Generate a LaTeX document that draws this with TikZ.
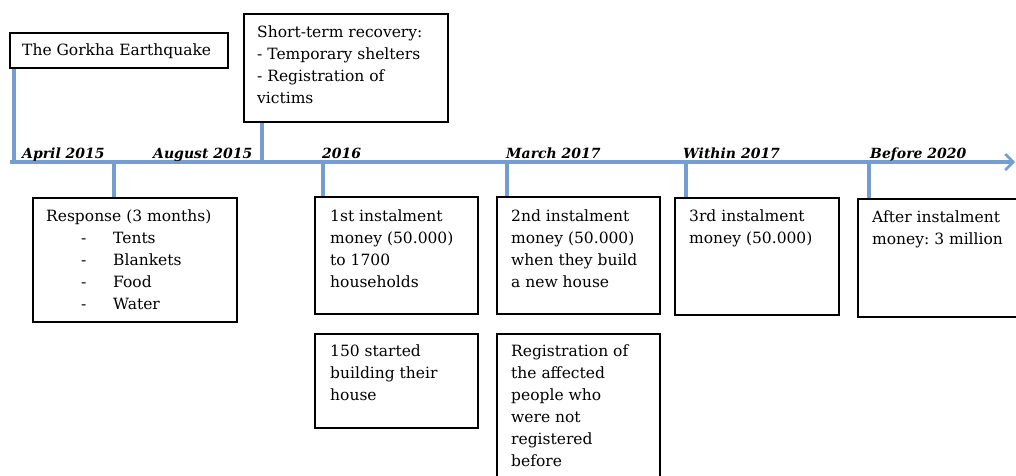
\documentclass[tikz,border=0pt]{standalone}
\usepackage{fontspec}
\setmainfont{DejaVu Serif}
\usetikzlibrary{arrows.meta}
\definecolor{lineblue}{RGB}{116,158,208}
\frenchspacing
\tikzset{
  frame/.style={draw=black, line width=1.6pt, inner sep=0pt, anchor=north west},
  btext/.style={anchor=north west, inner sep=0pt, align=left,
    font=\fontsize{15.5}{22}\selectfont},
  datelabel/.style={anchor=base west, inner sep=0pt,
    font=\fontsize{14}{16}\selectfont\bfseries\itshape},
  tick/.style={draw=lineblue, line width=3.8pt},
  axis/.style={draw=lineblue, line width=3.8pt, -{Straight Barb[length=8pt,width=16pt,line width=2.5pt]}}
}
\newcommand{\dashitem}[1]{\hspace*{35pt}\makebox[32pt][l]{-}#1}
\begin{document}
\begin{tikzpicture}[x=1pt,y=-1pt]
\useasboundingbox (0,0) rectangle (1016,475);
\clip (0,0) rectangle (1016,475);

% boxes
\node[frame, minimum width=218pt, minimum height=35pt]  (gorkha) at (9,32) {};
\node[frame, minimum width=204pt, minimum height=108pt] (short)  at (243,13) {};
\node[frame, minimum width=204pt, minimum height=124pt] (resp)   at (32,197) {};
\node[frame, minimum width=163pt, minimum height=117pt] (inst1)  at (314,196) {};
\node[frame, minimum width=163pt, minimum height=117pt] (inst2)  at (496,196) {};
\node[frame, minimum width=164pt, minimum height=117pt] (inst3)  at (674,197) {};
\node[frame, minimum width=170pt, minimum height=118pt] (after)  at (857,198) {};
\node[frame, minimum width=163pt, minimum height=94pt]  (start)  at (314,333) {};
\node[frame, minimum width=163pt, minimum height=150pt] (regis)  at (496,333) {};

% box texts
\node[btext] (tgorkha) at ([xshift=13pt,yshift=-12pt]gorkha.north west) {The Gorkha Earthquake};
\node[btext] (tshort) at ([xshift=14pt,yshift=-13pt]short.north west)
  {Short-term recovery:\\- Temporary shelters\\- Registration of\\victims};
\node[btext] (tresp) at ([xshift=14pt,yshift=-13pt]resp.north west)
  {Response (3 months)\\\dashitem{Tents}\\\dashitem{Blankets}\\\dashitem{Food}\\\dashitem{Water}};
\node[btext] (tinst1) at ([xshift=16pt,yshift=-14pt]inst1.north west)
  {1st instalment\\money (50.000)\\to 1700\\households};
\node[btext] (tinst2) at ([xshift=15pt,yshift=-14pt]inst2.north west)
  {2nd instalment\\money (50.000)\\when they build\\a new house};
\node[btext] (tinst3) at ([xshift=15pt,yshift=-13pt]inst3.north west)
  {3rd instalment\\money (50.000)};
\node[btext] (tafter) at ([xshift=15pt,yshift=-13pt]after.north west)
  {After instalment\\money: 3 million};
\node[btext] (tstart) at ([xshift=16pt,yshift=-12pt]start.north west)
  {150 started\\building their\\house};
\node[btext] (tregis) at ([xshift=15pt,yshift=-12pt]regis.north west)
  {Registration of\\the affected\\people who\\were not\\registered\\before};

% timeline
\coordinate (axstart) at (10,162);
\coordinate (axend) at (1015,162);
\coordinate (m1) at (14,162);
\coordinate (m2) at (114,162);
\coordinate (m3) at (262,162);
\coordinate (m4) at (323,162);
\coordinate (m5) at (507,162);
\coordinate (m6) at (686,162);
\coordinate (m7) at (869,162);

\draw[tick] (m1) -- (m1 |- gorkha.south);
\draw[tick] (m2) -- (m2 |- resp.north);
\draw[tick] (m3) -- (m3 |- short.south);
\draw[tick] (m4) -- (m4 |- inst1.north);
\draw[tick] (m5) -- (m5 |- inst2.north);
\draw[tick] (m6) -- (m6 |- inst3.north);
\draw[tick] (m7) -- (m7 |- after.north);
\draw[axis] (axstart) -- (axend);

% dates
\node[datelabel] (d1) at (22,158)  {April 2015};
\node[datelabel] (d2) at (153,158) {August 2015};
\node[datelabel] (d3) at (322,158) {2016};
\node[datelabel] (d4) at (506,158) {March 2017};
\node[datelabel] (d5) at (683,158) {Within 2017};
\node[datelabel] (d6) at (870,158) {Before 2020};
\end{tikzpicture}
\end{document}
